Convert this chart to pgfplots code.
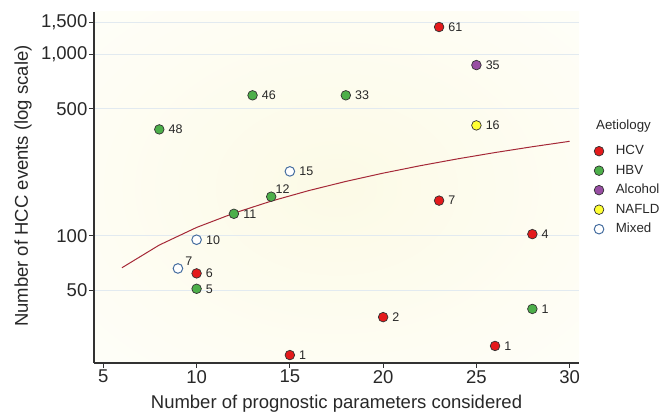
\documentclass[border=0pt]{standalone}
\usepackage{fontspec}
\setmainfont{Liberation Sans}
\usepackage{pgfplots}
\pgfplotsset{compat=1.18}
\usepackage{pgfplotstable}

\definecolor{hcv}{RGB}{228,26,28}
\definecolor{hbv}{RGB}{77,175,74}
\definecolor{alc}{RGB}{152,78,163}
\definecolor{naf}{RGB}{255,255,51}
\definecolor{mixedge}{RGB}{70,110,160}
\definecolor{fitc}{RGB}{165,40,55}
\definecolor{gridc}{RGB}{226,234,240}
\definecolor{bgc}{RGB}{252,250,230}
\definecolor{bgm}{RGB}{254,253,243}
\definecolor{axc}{RGB}{50,50,50}
\definecolor{txt}{RGB}{40,40,40}

\pgfdeclareradialshading{bgshade}{\pgfpoint{0bp}{0bp}}{color(0bp)=(bgc); color(25bp)=(bgm); color(50bp)=(white)}

\pgfplotstableread{
x y lab
23 1410 61
20 35.6 2
26 24.7 1
15 22 1
23 156 7
28 102 4
10 62 6
}\hcvtab

\pgfplotstableread{
x y lab
13 593 46
18 593 33
8 385 48
12 132 11
10 51 5
28 39.5 1
}\hbvtab

\pgfplotstableread{
x y lab
14 164 12
}\hbvtabb

\pgfplotstableread{
x y lab
25 870 35
}\alctab

\pgfplotstableread{
x y lab
25 405 16
}\naftab

\pgfplotstableread{
x y lab
15 226 15
10 95 10
}\mixtab

\pgfplotstableread{
x y lab
9 66 7
}\mixtabb

\pgfplotstableread{
x y
6 66.6
8 88.8
10 111
12 133
14 155
16 177
18 199
20 221
22 243
24 265
26 287
28 309
30 331
}\fittab

\begin{document}
\begin{tikzpicture}
\begin{axis}[
  scale only axis, width=485bp, height=351bp,
  xmin=4.5, xmax=30.5, ymode=log, ymin=19.9, ymax=1706,
  axis x line*=bottom, axis y line*=left,
  axis line style={axc, line width=1.3bp, -},
  xtick={5,10,15,20,25,30},
  ytick={50,100,500,1000,1500},
  yticklabels={50,100,500,{1,000},{1,500}},
  yminorticks=false, xminorticks=false,
  tick align=outside, major tick length=5bp,
  tick style={axc, line width=1bp},
  ymajorgrids, grid style={gridc, line width=1bp},
  /pgf/number format/assume math mode=true,
  tick label style={font=\fontsize{18.5bp}{20bp}\selectfont, text=txt},
  yticklabel style={inner sep=1.5bp},
  xticklabel style={inner sep=2bp},
  every axis x label/.style={at={(axis description cs:0.5,0)}, anchor=center, yshift=-41bp, font=\fontsize{18.5bp}{20bp}\selectfont, text=txt},
  every axis y label/.style={at={(axis description cs:0,0.504)}, xshift=-71bp, anchor=center, rotate=90, font=\fontsize{18.5bp}{20bp}\selectfont, text=txt},
  xlabel={Number of prognostic parameters considered},
  ylabel={Number of HCC events (log scale)},
  axis background/.style={shading=bgshade},
  clip=false,
  lblw/.style={nodes near coords, point meta=explicit symbolic,
    every node near coord/.append style={font=\fontsize{12.5bp}{14bp}\selectfont, text=txt, anchor=west, xshift=9bp, yshift=0bp, inner sep=0pt}},
  lblne/.style={nodes near coords, point meta=explicit symbolic,
    every node near coord/.append style={font=\fontsize{12.5bp}{14bp}\selectfont, text=txt, anchor=south west, xshift=#1, yshift=2.5bp, inner sep=0pt}},
  dot/.style={only marks, mark=*, mark size=4.8bp, mark options={fill=#1, draw=axc, line width=0.7bp}},
  mixdot/.style={only marks, mark=*, mark size=4.8bp, mark options={fill=white, draw=mixedge, line width=1bp}},
  legend image code/.code={\draw[#1] plot coordinates {(0bp,0bp)};},
  legend cell align=left,
  legend style={draw=none, fill=none, inner sep=0pt, font=\fontsize{13.3bp}{15bp}\selectfont, text=txt,
    at={(rel axis cs:1.031,0.624)}, anchor=north west, row sep=5.5bp,
    nodes={inner sep=1bp, text height=9.5bp, text depth=2.5bp},
    /tikz/every odd column/.style={column sep=11bp}},
]
\addplot[fitc, line width=1bp, forget plot] table[x=x,y=y] \fittab;
\addplot[dot=hcv, lblw] table[x=x,y=y,meta=lab] \hcvtab;
\addlegendentry{HCV}
\addplot[dot=hbv, lblw] table[x=x,y=y,meta=lab] \hbvtab;
\addlegendentry{HBV}
\addplot[dot=alc, lblw] table[x=x,y=y,meta=lab] \alctab;
\addlegendentry{Alcohol}
\addplot[dot=naf, lblw] table[x=x,y=y,meta=lab] \naftab;
\addlegendentry{NAFLD}
\addplot[mixdot, lblw] table[x=x,y=y,meta=lab] \mixtab;
\addlegendentry{Mixed}
\addplot[dot=hbv, lblne=4bp, forget plot] table[x=x,y=y,meta=lab] \hbvtabb;
\addplot[mixdot, lblne=7bp, forget plot] table[x=x,y=y,meta=lab] \mixtabb;
\node[anchor=west, font=\fontsize{13.3bp}{15bp}\selectfont, text=txt, inner sep=0pt] at (rel axis cs:1.035,0.674) {Aetiology};
\end{axis}
\pgfresetboundingbox
\path (-94bp,-55bp) rectangle (567bp,363bp);
\end{tikzpicture}
\end{document}
